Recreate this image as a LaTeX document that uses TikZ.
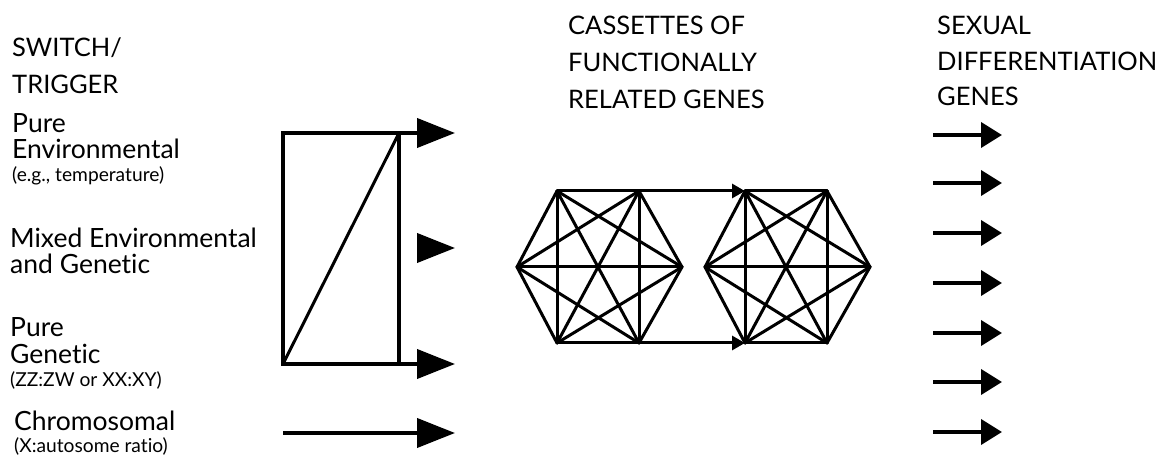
\documentclass[tikz,border=0pt]{standalone}
\usepackage{fontspec}
\setmainfont{Lato}[Ligatures={NoCommon}]
\usetikzlibrary{arrows.meta}
\begin{document}
\begin{tikzpicture}[x=1pt,y=-1pt,
  head/.style={font=\fontsize{25.5}{28}\selectfont, anchor=base west, inner sep=0pt},
  big/.style={font=\fontsize{26.5}{28}\selectfont, anchor=base west, inner sep=0pt},
  small/.style={font=\fontsize{19.2}{21}\selectfont, anchor=base west, inner sep=0pt},
  thick line/.style={line width=4pt, line join=miter},
  bigarrow/.style={line width=4pt, -{Triangle[length=38pt,width=29pt]}},
  smallarrow/.style={line width=4pt, -{Triangle[length=21pt,width=25pt]}},
  hexline/.style={line width=3pt, line cap=round, line join=round},
  hexarrow/.style={line width=3pt, -{Triangle[length=13pt,width=14pt]}}
]
\useasboundingbox (0,0) rectangle (1163,457);

% headings
\node[head] (h1a) at (12,57) {SWITCH/};
\node[head] (h1b) at (12,94) {TRIGGER};
\node[head] (h2a) at (568,35) {CASSETTES OF};
\node[head] (h2b) at (568,72) {FUNCTIONALLY};
\node[head] (h2c) at (568,109) {RELATED GENES};
\node[head] (h3a) at (937,35) {SEXUAL};
\node[head] (h3b) at (937,71) {DIFFERENTIATION};
\node[head] (h3c) at (937,106) {GENES};

% left labels
\node[big] (l1a) at (12,133) {Pure};
\node[big] (l1b) at (12,159) {Environmental};
\node[small] (l1c) at (12,182) {(e.g., temperature)};
\node[big] (l2a) at (10,248) {Mixed Environmental};
\node[big] (l2b) at (10,274) {and Genetic};
\node[big] (l3a) at (10,337) {Pure};
\node[big] (l3b) at (10,363) {Genetic};
\node[small] (l3c) at (10,386) {(ZZ:ZW or XX:XY)};
\node[big] (l4a) at (14,430) {Chromosomal};
\node[small] (l4b) at (14,452) {(X:autosome ratio)};

% switch box
\coordinate (tl) at (283,133);
\coordinate (tr) at (399,133);
\coordinate (bl) at (283,364);
\coordinate (br) at (399,364);
\coordinate (a1) at (455,133);
\coordinate (a2s) at (417,248);
\coordinate (a2) at (455,248);
\coordinate (a3) at (455,364);
\coordinate (c0) at (283,433);
\coordinate (c1) at (455,433);

\draw[thick line] (tl) -- (bl);
\draw[thick line] (tr) -- (br);
\draw[line width=3pt] (bl) -- (tr);
\draw[bigarrow] ([xshift=-2pt]tl) -- (a1);
\draw[bigarrow] ([xshift=-2pt]bl) -- (a3);
\draw[bigarrow] (a2s) -- (a2);
\draw[bigarrow] (c0) -- (c1);

% hexagons (complete graphs)
\foreach \s/\n in {0/p,188/q}{
  \coordinate (\n1) at (517+\s,267);
  \coordinate (\n2) at (557+\s,191);
  \coordinate (\n3) at (639+\s,191);
  \coordinate (\n4) at (682+\s,267);
  \coordinate (\n5) at (639+\s,343);
  \coordinate (\n6) at (557+\s,343);
}
\foreach \n in {p,q}{
  \foreach \i in {1,...,5}{
    \pgfmathtruncatemacro{\j}{\i+1}
    \foreach \k in {\j,...,6}{
      \draw[hexline] (\n\i) -- (\n\k);
    }
  }
}
\draw[hexarrow] (p3) -- (q2);
\draw[hexarrow] (p5) -- (q6);

% output arrows
\foreach \y [count=\i] in {135,183,233,283,333,382,432}{
  \coordinate (s\i) at (933,\y);
  \coordinate (e\i) at (1002,\y);
  \draw[smallarrow] (s\i) -- (e\i);
}
\end{tikzpicture}
\end{document}
